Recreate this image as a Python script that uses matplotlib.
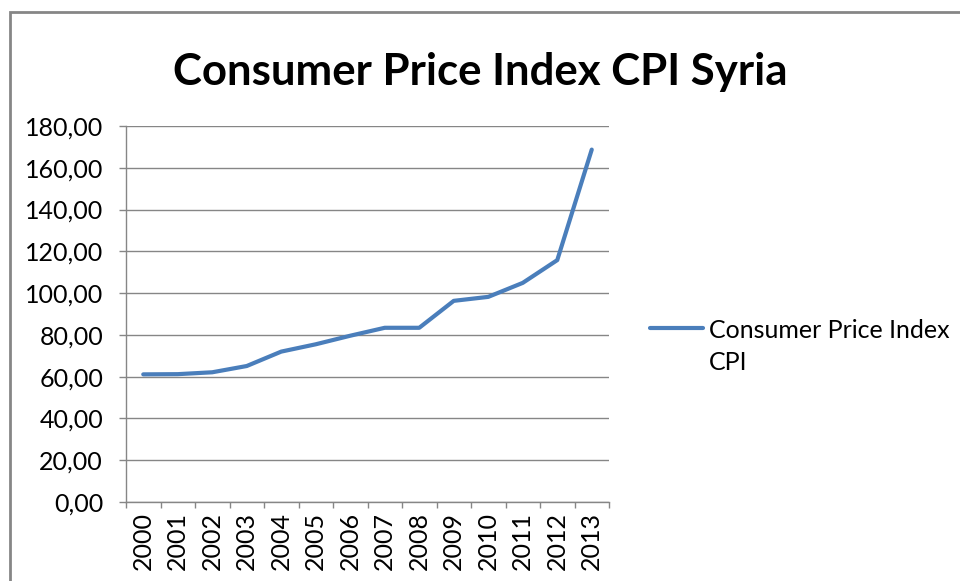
import matplotlib
matplotlib.use("Agg")
import matplotlib.pyplot as plt
from matplotlib.patches import Rectangle
from matplotlib.lines import Line2D
from matplotlib.ticker import FuncFormatter, FixedLocator

years = ["2000", "2001", "2002", "2003", "2004", "2005", "2006",
         "2007", "2008", "2009", "2010", "2011", "2012", "2013"]
cpi = [61.1, 61.2, 62.1, 65.1, 72.0, 75.5, 79.6,
       83.4, 83.4, 96.3, 98.2, 104.9, 115.8, 168.7]
series_name = ["Consumer Price Index", "CPI"]
title = "Consumer Price Index CPI Syria"

plt.rcParams['font.family'] = ['Lato', 'DejaVu Sans']

W, H = 960, 581
fig = plt.figure(figsize=(W / 100, H / 100), dpi=100)
fig.patch.set_facecolor("white")

line_color = "#4a7ebb"
grid_color = "#868686"

# outer chart border (right and bottom edges lie outside the image)
fig.add_artist(Rectangle((9.5 / W, -0.1), 1.2, 1 - 12.5 / H + 0.1,
                         transform=fig.transFigure, fill=False,
                         edgecolor=grid_color, linewidth=2))

left, right, top, bottom = 126, 609, 126, 502
ax = fig.add_axes([left / W, 1 - bottom / H, (right - left) / W, (bottom - top) / H])

x = list(range(len(years)))
ax.plot(x, cpi, color=line_color, linewidth=3, solid_capstyle="round",
        solid_joinstyle="round", zorder=3)

ax.set_xlim(-0.5, len(years) - 0.5)
ax.set_ylim(0, 180)
ax.set_yticks(range(0, 181, 20))
ax.yaxis.set_major_formatter(FuncFormatter(lambda v, p: f"{v:.2f}".replace(".", ",")))
ax.yaxis.grid(True, color=grid_color, linewidth=1)
ax.set_axisbelow(True)

ax.set_xticks(x)
ax.set_xticklabels(years, rotation=90)
ax.xaxis.set_minor_locator(FixedLocator([i - 0.5 for i in range(len(years) + 1)]))
ax.tick_params(axis="x", which="major", length=0, pad=7, labelsize=18, colors="#000000")
ax.tick_params(axis="x", which="minor", length=4.5, color=grid_color, width=1)
ax.tick_params(axis="y", length=5, color=grid_color, width=1, labelsize=18,
               pad=11.5, labelcolor="#000000")

for s in ["top", "right"]:
    ax.spines[s].set_visible(False)
for s in ["left", "bottom"]:
    ax.spines[s].set_color(grid_color)
    ax.spines[s].set_linewidth(1)

fig.text(480 / W, 1 - 72 / H, title, ha="center", va="center",
         fontsize=31.5, fontweight="bold", color="#000000")

# legend
fig.add_artist(Line2D([650 / W, 703 / W], [1 - 328 / H, 1 - 328 / H],
                      transform=fig.transFigure, color=line_color, linewidth=3,
                      solid_capstyle="round"))
for i, t in enumerate(series_name):
    fig.text(709 / W, 1 - (328 + 32 * i) / H, t, ha="left", va="center_baseline",
             fontsize=18, color="#000000")

fig.savefig("out.png", dpi=100, facecolor="white")
